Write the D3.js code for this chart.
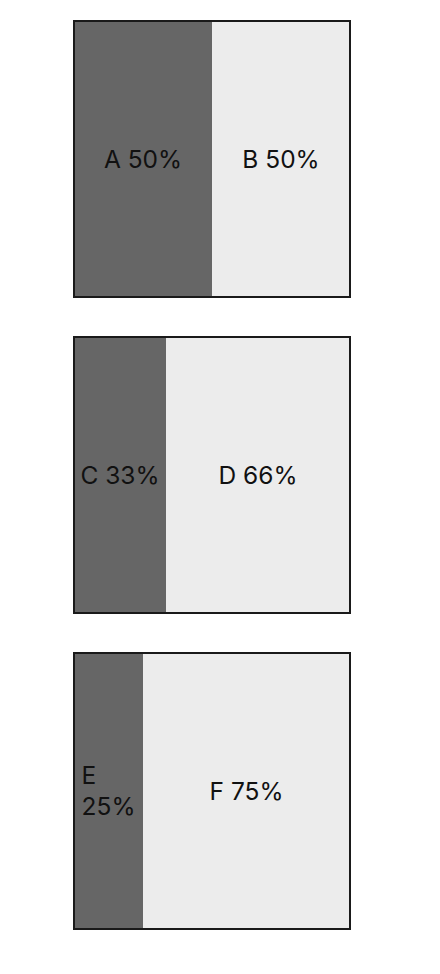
<!DOCTYPE html>
<html><head><meta charset="utf-8">
<script src="https://cdn.jsdelivr.net/npm/d3@7"></script>
<style>body{margin:0;background:#fff;}svg{display:block;}</style>
</head><body>
<svg id="chart" width="440" height="974"></svg>
<script>
const panelNames = ["p1", "p2", "p3"];
const leftCategories = ["A", "C", "E"];
const leftValues = [50, 33, 25];
const rightCategories = ["B", "D", "F"];
const rightValues = [50, 66, 75];

const svg = d3.select("#chart");
const X0 = 74, W = 276, H = 276, TOP = 21, GAP = 316;
const fontSize = 24.5, lineH = 31, pad = 4;
const colors = ["#666666", "#ececec"];

const y = d3.scaleBand().domain(panelNames).range([TOP, TOP + GAP * 3]).paddingInner(0);

panelNames.forEach((p, i) => {
  const segs = [
    {cat: leftCategories[i], val: leftValues[i]},
    {cat: rightCategories[i], val: rightValues[i]}
  ];
  const total = d3.sum(segs, d => d.val);
  const x = d3.scaleLinear().domain([0, total]).range([X0, X0 + W]);
  let acc = 0;
  segs.forEach(s => { s.x0 = acc; acc += s.val; s.x1 = acc; });
  const g = svg.append("g");
  const py = y(p);
  g.selectAll("rect.seg").data(segs).join("rect")
    .attr("class", "seg")
    .attr("x", d => x(d.x0)).attr("y", py)
    .attr("width", d => x(d.x1) - x(d.x0)).attr("height", H)
    .attr("fill", (d, j) => colors[j]);
  g.append("rect").attr("x", X0).attr("y", py).attr("width", W).attr("height", H)
    .attr("fill", "none").attr("stroke", "#1a1a1a").attr("stroke-width", 2);

  segs.forEach(s => {
    const label = s.cat + " " + s.val + "%";
    const cx = (x(s.x0) + x(s.x1)) / 2;
    const avail = x(s.x1) - x(s.x0) - 2 * pad;
    const t = g.append("text")
      .attr("font-family", "Inter, 'Noto Sans', sans-serif")
      .attr("font-size", fontSize).attr("fill", "#111");
    t.text(label);
    const full = t.node().getComputedTextLength();
    if (full <= avail) {
      t.attr("x", cx).attr("y", py + H / 2 + fontSize * 0.36).attr("text-anchor", "middle");
    } else {
      t.text(null);
      const words = label.split(" ");
      const tmp = [];
      words.forEach(w => {
        const ts = t.append("tspan").text(w);
        tmp.push(ts);
      });
      const widths = tmp.map(ts => ts.node().getComputedTextLength());
      const maxW = d3.max(widths);
      const left = cx - maxW / 2;
      const n = words.length;
      tmp.forEach((ts, k) => {
        ts.attr("x", left)
          .attr("y", py + H / 2 + fontSize * 0.36 + (k - (n - 1) / 2) * lineH);
      });
    }
  });
});
</script>
</body></html>
